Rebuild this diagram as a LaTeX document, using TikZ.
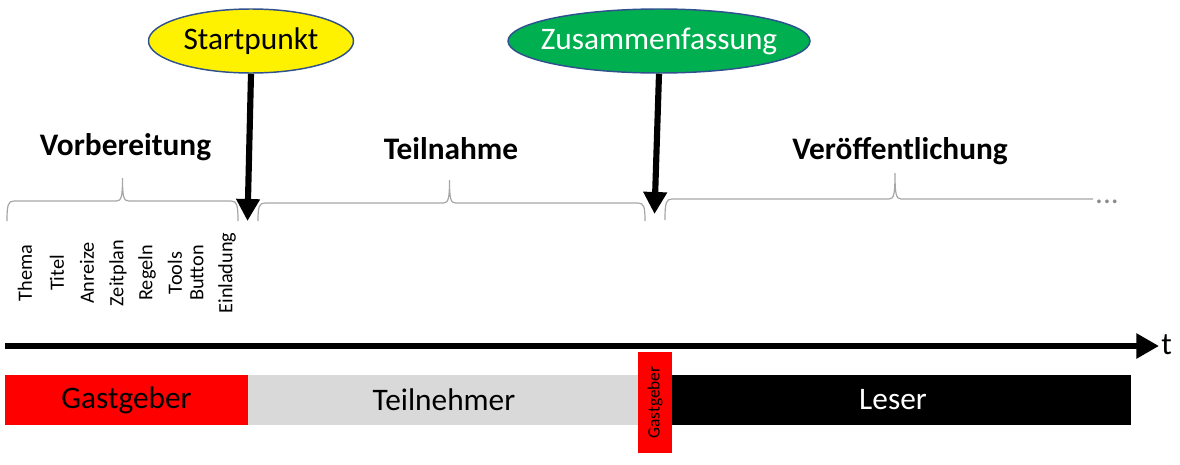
\documentclass[tikz,border=0pt]{standalone}
\usepackage{fontspec}
\setmainfont{Carlito}
\usetikzlibrary{shapes.geometric,arrows.meta}
\definecolor{ellborder}{HTML}{2F528F}
\definecolor{zgreen}{HTML}{00B050}
\definecolor{bargray}{HTML}{D9D9D9}
\definecolor{bracegray}{HTML}{A6A6A6}
\definecolor{dotgray}{HTML}{8C8C8C}
% #1 left x, #2 tip x, #3 right x, #4 line y, #5 tip y, #6 end y
\newcommand\fullbrace[6]{%
  \draw[bracestyle] (#1,#6) .. controls (#1,#4+4) and (#1+1,#4) .. (#1+7,#4) -- (#2-6,#4)
    .. controls (#2-1,#4) and (#2,#4-5) .. (#2,#5)
    .. controls (#2,#4-5) and (#2+1,#4) .. (#2+6,#4) -- (#3-7,#4)
    .. controls (#3-1,#4) and (#3,#4+4) .. (#3,#6);}
\tikzset{
  bracestyle/.style={draw=bracegray, line width=0.9pt},
  ell/.style={ellipse, draw=ellborder, line width=1.1pt, inner sep=0pt, minimum height=48pt},
  elltext/.style={inner sep=0pt, font=\fontsize{23.5}{28}\selectfont},
  phase/.style={font=\fontsize{23.5}{28}\selectfont\bfseries},
  task/.style={rotate=90, inner sep=0pt, font=\fontsize{15.2}{18}\selectfont},
  bigarrow/.style={line width=4.6pt, -{Triangle[length=16.5pt, width=17pt]}},
  bar/.style={inner sep=0pt, minimum height=37.5pt, font=\fontsize{23.5}{28}\selectfont},
}
\begin{document}
\begin{tikzpicture}[x=0.75pt,y=-0.75pt]
\useasboundingbox (0,0) rectangle (1180,464);

% ellipses
\node[ell, fill=yellow, minimum width=153.75pt] (sp) at (251,41) {};
\node[elltext] (spt) at (sp.center) {Startpunkt};
\node[ell, fill=zgreen, minimum width=226.5pt] (zf) at (659,41) {};
\node[elltext, text=white] (zft) at (zf.center) {Zusammenfassung};

% phase labels
\node[phase] (vb) at (125.5,147) {Vorbereitung};
\node[phase] (tn) at (451,149) {Teilnahme};
\node[phase] (vo) at (900,151) {Veröffentlichung};

% braces
\fullbrace{7}{122.5}{238}{201}{178}{221}
\fullbrace{258}{449.5}{645}{203}{180}{221}
\draw[bracestyle] (665,220) .. controls (665,203) and (666,199) .. (672,199) -- (889,199)
    .. controls (894,199) and (895,194) .. (895,173)
    .. controls (895,194) and (896,199) .. (901,199) -- (1093,199);
\node[inner sep=0pt, text=dotgray, font=\fontsize{23.5}{28}\selectfont] (dots) at (1107,202) {...};

% arrows from ellipses
\coordinate (spTip) at (247.5,221);
\coordinate (zfTip) at (654.5,214);
\draw[bigarrow] (sp.south) -- (spTip);
\draw[bigarrow] (zf.south) -- (zfTip);

% tasks
\node[task] (t1) at (25,273) {Thema};
\node[task] (t2) at (57,273) {Titel};
\node[task] (t3) at (87,273) {Anreize};
\node[task] (t4) at (118,273) {Zeitplan};
\node[task] (t5) at (147,273) {Regeln};
\node[task] (t6) at (175,273) {Tools};
\node[task] (t7) at (197,273) {Button};
\node[task] (t8) at (227,273) {Einladung};

% timeline
\coordinate (tl0) at (5,346);
\node[inner sep=0pt, anchor=west, font=\fontsize{23.5}{28}\selectfont] (tt) at (1161,345) {t};
\coordinate (tl1) at (1159,346);
\draw[line width=4.5pt, -{Triangle[length=17pt, width=18pt]}] (tl0) -- (tl1);

% role bars
\node[bar, fill=red, minimum width=182.25pt] (gg) at (126.5,400) {Gastgeber};
\node[bar, fill=bargray, minimum width=294pt] (tnb) at (444,400) {Teilnehmer};
\node[bar, fill=black, text=white, minimum width=344.25pt] (le) at (901.5,400) {};
\node[bar, text=white] (let) at (893,400) {Leser};
\node[fill=red, inner sep=0pt, minimum width=25.5pt, minimum height=75.75pt] (gg2) at (655,402.5) {};
\node[rotate=90, inner sep=0pt, font=\fontsize{13}{15}\selectfont] (gg2t) at (gg2.center) {Gastgeber};
\end{tikzpicture}
\end{document}
